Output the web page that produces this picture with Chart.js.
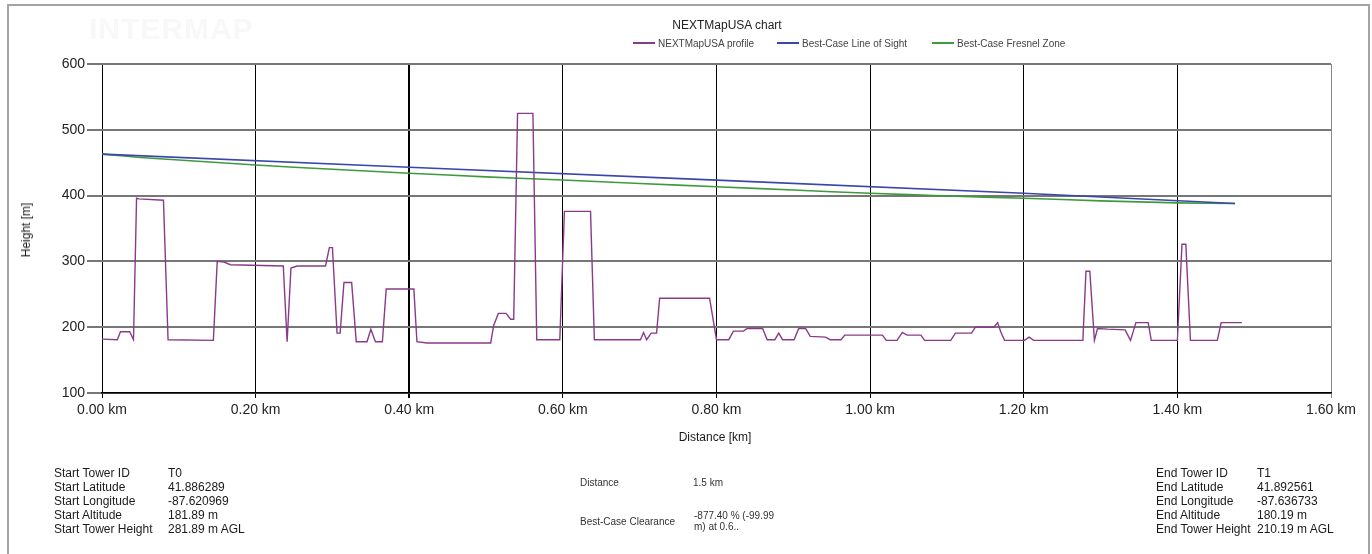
<!DOCTYPE html>
<html lang="en">
<head>
  <meta charset="UTF-8">
  <title>NEXTMapUSA chart</title>
  <script src="https://cdn.jsdelivr.net/npm/chart.js"></script>
  <style>
    body {
      margin: 0;
      background: #fff;
      font-family: "Liberation Sans", Arial, sans-serif;
      color: #1a1a1a;
    }
    .wrap {
      position: relative;
      width: 1372px;
      height: 554px;
      overflow: hidden;
    }
    .frame {
      position: absolute;
      left: 7px;
      top: 4px;
      width: 1363px;
      height: 600px;
      border: 2px solid #a4a4a4;
      box-sizing: border-box;
    }
    canvas { position: absolute; left: 0; top: 0; }
    .txt { position: absolute; white-space: nowrap; }
    .watermark { left: 89px; top: 12px; font-size: 30px; font-weight: bold; color: #f8f8f8; letter-spacing: 1px; }
    .title { left: 727px; top: 18px; font-size: 12px; transform: translateX(-50%); color: #222; }
    .legend { top: 38px; font-size: 10px; color: #444; line-height: 12px; }
    .legend i { display: inline-block; width: 22px; height: 2px; vertical-align: middle; margin-right: 3px; margin-top: -2px; }
    .ytitle { left: 26px; top: 230px; font-size: 12px; transform: translate(-50%, -50%) rotate(-90deg); }
    .xtitle { left: 715px; top: 430px; font-size: 12px; transform: translateX(-50%); }
    .info { font-size: 12px; line-height: 14px; top: 466px; }
    .small { font-size: 10px; color: #333; line-height: 11px; }
  </style>
</head>
<body>
  <div class="wrap">
    <div class="frame"></div>
    <canvas id="profileChart" width="1372" height="554"></canvas>

    <div class="txt watermark">INTERMAP</div>
    <div class="txt title">NEXTMapUSA chart</div>
    <div class="txt legend" style="left:633px"><i style="background:#8a3a8a"></i>NEXTMapUSA profile</div>
    <div class="txt legend" style="left:777px"><i style="background:#3a46a8"></i>Best-Case Line of Sight</div>
    <div class="txt legend" style="left:932px"><i style="background:#3f9a3f"></i>Best-Case Fresnel Zone</div>
    <div class="txt ytitle">Height [m]</div>
    <div class="txt xtitle">Distance [km]</div>

    <div class="txt info" style="left:54px">Start Tower ID<br>Start Latitude<br>Start Longitude<br>Start Altitude<br>Start Tower Height</div>
    <div class="txt info" style="left:168px">T0<br>41.886289<br>-87.620969<br>181.89 m<br>281.89 m AGL</div>

    <div class="txt small" style="left:580px; top:477px">Distance</div>
    <div class="txt small" style="left:693px; top:477px">1.5 km</div>
    <div class="txt small" style="left:580px; top:516px">Best-Case Clearance</div>
    <div class="txt small" style="left:694px; top:510px">-877.40 % (-99.99<br>m) at 0.6..</div>

    <div class="txt info" style="left:1156px">End Tower ID<br>End Latitude<br>End Longitude<br>End Altitude<br>End Tower Height</div>
    <div class="txt info" style="left:1257px">T1<br>41.892561<br>-87.636733<br>180.19 m<br>210.19 m AGL</div>
  </div>

  <script>
    // Terrain profile (distance km, height m)
    const profileKm = [
      0.000, 0.020, 0.024, 0.036, 0.041, 0.045, 0.048, 0.080, 0.086, 0.145,
      0.150, 0.159, 0.167, 0.236, 0.241, 0.246, 0.254, 0.291, 0.296, 0.300,
      0.306, 0.310, 0.315, 0.325, 0.331, 0.345, 0.350, 0.356, 0.365, 0.370,
      0.406, 0.410, 0.423, 0.506, 0.510, 0.516, 0.526, 0.532, 0.536, 0.541,
      0.561, 0.566, 0.596, 0.602, 0.636, 0.641, 0.701, 0.705, 0.709, 0.715,
      0.722, 0.726, 0.791, 0.800, 0.816, 0.822, 0.835, 0.840, 0.860, 0.866,
      0.876, 0.881, 0.886, 0.901, 0.907, 0.916, 0.922, 0.942, 0.948, 0.962,
      0.967, 1.016, 1.021, 1.035, 1.042, 1.048, 1.066, 1.071, 1.105, 1.111,
      1.132, 1.137, 1.161, 1.166, 1.170, 1.175, 1.201, 1.207, 1.213, 1.277,
      1.281, 1.286, 1.292, 1.296, 1.309, 1.332, 1.339, 1.346, 1.362, 1.366,
      1.400, 1.406, 1.411, 1.417, 1.452, 1.457, 1.484
    ];
    const profileM = [
      181.9, 181, 193, 193, 181, 396, 395, 393, 181, 180,
      300, 299, 295, 293, 178, 290, 293, 293, 321, 321,
      191, 191, 268, 268, 178, 178, 197, 178, 178, 258,
      258, 178, 176, 176, 203, 221, 221, 212, 212, 525,
      525, 181, 181, 376, 376, 181, 181, 192, 181, 191,
      191, 244, 244, 181, 181, 194, 194, 198, 198, 181,
      181, 191, 181, 181, 198, 198, 186, 185, 181, 181,
      188, 188, 180, 180, 192, 188, 188, 180, 180, 191,
      191, 200, 200, 207, 193, 180, 180, 185, 180, 180,
      285, 285, 180, 198, 197, 196, 180, 207, 207, 180,
      180, 326, 326, 180, 180, 207, 207
    ];

    // Line of sight
    const losKm = [0.000, 0.400, 0.800, 1.200, 1.475];
    const losM = [463, 443, 423.5, 403.5, 388];

    // Fresnel zone
    const fresnelKm = [0.000, 0.050, 0.100, 0.200, 0.300, 0.400, 0.500, 0.600, 0.700, 0.800, 0.900, 1.000, 1.100, 1.200, 1.300, 1.400, 1.475];
    const fresnelM = [463, 458, 454, 446.5, 440, 434, 428.5, 423.7, 418.5, 413.5, 408.5, 403.5, 399.5, 396, 392, 389, 388];

    const xTicksKm = [0, 0.2, 0.4, 0.6, 0.8, 1.0, 1.2, 1.4, 1.6];

    const toPoints = (xs, ys) => xs.map((x, i) => ({ x: x, y: ys[i] }));
    const font = "'Liberation Sans', Arial, sans-serif";

    const ctx = document.getElementById("profileChart").getContext("2d");
    const chart = new Chart(ctx, {
      type: "line",
      data: {
        datasets: [
          {
            label: "NEXTMapUSA profile",
            data: toPoints(profileKm, profileM),
            borderColor: "#8a3a8a",
            borderWidth: 1.4,
            pointRadius: 0,
            tension: 0,
          },
          {
            label: "Best-Case Line of Sight",
            data: toPoints(losKm, losM),
            borderColor: "#3a46a8",
            borderWidth: 1.6,
            pointRadius: 0,
            tension: 0,
          },
          {
            label: "Best-Case Fresnel Zone",
            data: toPoints(fresnelKm, fresnelM),
            borderColor: "#3f9a3f",
            borderWidth: 1.6,
            pointRadius: 0,
            tension: 0.2,
          },
        ],
      },
      options: {
        responsive: false,
        animation: false,
        devicePixelRatio: 1,
        layout: { padding: { left: 0, right: 41, top: 64, bottom: 121 } },
        plugins: {
          legend: { display: false },
          title: { display: false },
          tooltip: { enabled: false },
        },
        scales: {
          x: {
            type: "linear",
            min: 0,
            max: 1.6,
            afterFit: (scale) => { scale.height = 40; },
            afterBuildTicks: (scale) => { scale.ticks = xTicksKm.map((v) => ({ value: v })); },
            ticks: {
              callback: (v) => Number(v).toFixed(2) + " km",
              color: "#222",
              font: { family: font, size: 14 },
              padding: 4,
              maxRotation: 0,
              autoSkip: false,
            },
            grid: {
              color: (c) => (c.tick && Math.abs(c.tick.value - 1.6) < 1e-6 ? "#888" : "#000"),
              lineWidth: (c) => (c.tick && Math.abs(c.tick.value - 0.4) < 1e-6 ? 2 : 1),
              tickLength: 5,
            },
            border: { color: "#000", width: 1.5 },
          },
          y: {
            min: 100,
            max: 600,
            afterFit: (scale) => { scale.width = 102; },
            ticks: {
              stepSize: 100,
              color: "#222",
              font: { family: font, size: 14 },
              padding: 2,
            },
            grid: { color: "#777", lineWidth: 2, tickLength: 15 },
            border: { display: false },
          },
        },
      },
    });
  </script>
</body>
</html>
